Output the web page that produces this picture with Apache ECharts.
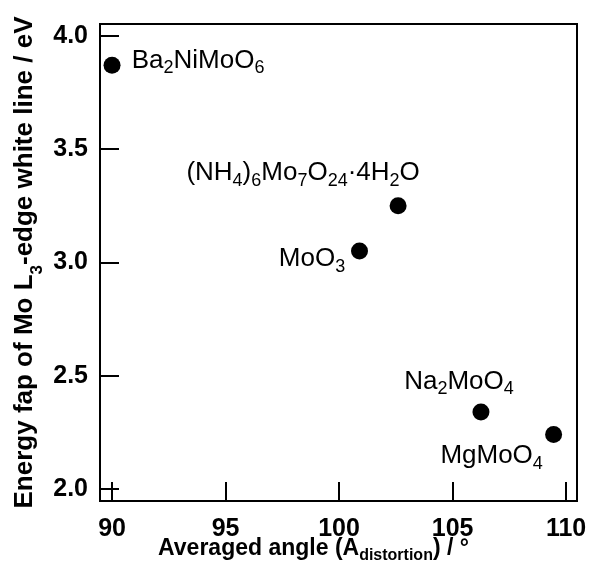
<!DOCTYPE html>
<html><head><meta charset="utf-8">
<script src="https://cdn.jsdelivr.net/npm/echarts@6/dist/echarts.min.js"></script>
<style>html,body{margin:0;padding:0;background:#fff}#c{width:590px;height:572px}</style>
</head><body><div id="c"></div>
<script>
// ---- data ----
const compounds = ['Ba2NiMoO6', '(NH4)6Mo7O24·4H2O', 'MoO3', 'Na2MoO4', 'MgMoO4'];
const compoundLabels = [
  '{m|Ba}{s|2}{m|NiMoO}{s|6}',
  '{m|(NH}{s|4}{m|)}{s|6}{m|Mo}{s|7}{m|O}{s|24}{m|·4H}{s|2}{m|O}',
  '{m|MoO}{s|3}',
  '{m|Na}{s|2}{m|MoO}{s|4}',
  '{m|MgMoO}{s|4}'
];
const angles = [90.0, 102.6, 100.9, 106.25, 109.45];
const energyGaps = [3.87, 3.25, 3.05, 2.34, 2.24];
const xTicks = [90, 95, 100, 105, 110];
const yTicks = [2.0, 2.5, 3.0, 3.5, 4.0];

// label placement (style, not data)
const labelOffsets = [[86, -4.5], [-95, -32.5], [-47.5, 8], [-22, -30], [-62, 21.5]];

const FONT = 'Liberation Sans, Arial, sans-serif';
const chart = echarts.init(document.getElementById('c'), null, {renderer: 'canvas'});

const seriesData = compounds.map((n, i) => ({
  name: n,
  value: [angles[i], energyGaps[i]],
  label: {formatter: compoundLabels[i], offset: labelOffsets[i]}
}));

chart.setOption({
  animation: false,
  backgroundColor: '#fff',
  grid: {left: 100, right: 13, top: 24, bottom: 71, outerBoundsMode: 'none', containLabel: false,
         show: true, borderColor: '#000', borderWidth: 2, backgroundColor: 'transparent'},
  xAxis: {
    type: 'value', min: 89.47, max: 110.48,
    splitLine: {show: false},
    axisLine: {show: true, lineStyle: {color: '#000', width: 2}},
    axisTick: {show: true, inside: true, length: 19, lineStyle: {color: '#000', width: 2}, customValues: xTicks},
    axisLabel: {customValues: xTicks, color: '#000', fontFamily: FONT, fontWeight: 'bold', fontSize: 25, margin: 16},
    name: '{m|Averaged angle (A}{s|distortion}{m|) / °}',
    nameLocation: 'middle', nameGap: 33, nameMoveOverlap: false,
    nameTextStyle: {
      padding: [0, 50, 0, 0],
      rich: {
        m: {fontFamily: FONT, fontWeight: 'bold', fontSize: 23, lineHeight: 30, color: '#000'},
        s: {fontFamily: FONT, fontWeight: 'bold', fontSize: 16, lineHeight: 16, verticalAlign: 'bottom', color: '#000'}
      }
    }
  },
  yAxis: {
    type: 'value', min: 1.947, max: 4.052,
    splitLine: {show: false},
    axisLine: {show: true, lineStyle: {color: '#000', width: 2}},
    axisTick: {show: true, inside: true, length: 19, lineStyle: {color: '#000', width: 2}, customValues: yTicks},
    axisLabel: {customValues: yTicks, formatter: v => v.toFixed(1), color: '#000', fontFamily: FONT, fontWeight: 'bold', fontSize: 25, margin: 12},
    name: '{m|Energy fap of Mo L}{s|3}{m|-edge white line / eV}',
    nameLocation: 'middle', nameGap: 54, nameMoveOverlap: false,
    nameTextStyle: {
      rich: {
        m: {fontFamily: FONT, fontWeight: 'bold', fontSize: 26, lineHeight: 43, color: '#000'},
        s: {fontFamily: FONT, fontWeight: 'bold', fontSize: 17, lineHeight: 17, verticalAlign: 'bottom', color: '#000'}
      }
    }
  },
  series: [{
    type: 'scatter',
    symbol: 'circle',
    symbolSize: 17,
    itemStyle: {color: '#000', opacity: 1},
    label: {
      show: true, position: 'inside', align: 'center', verticalAlign: 'middle', color: '#000',
      rich: {
        m: {fontFamily: FONT, fontSize: 26, lineHeight: 33, color: '#000'},
        s: {fontFamily: FONT, fontSize: 18, lineHeight: 18, verticalAlign: 'bottom', color: '#000'}
      }
    },
    emphasis: {disabled: true},
    data: seriesData
  }]
});
</script></body></html>
